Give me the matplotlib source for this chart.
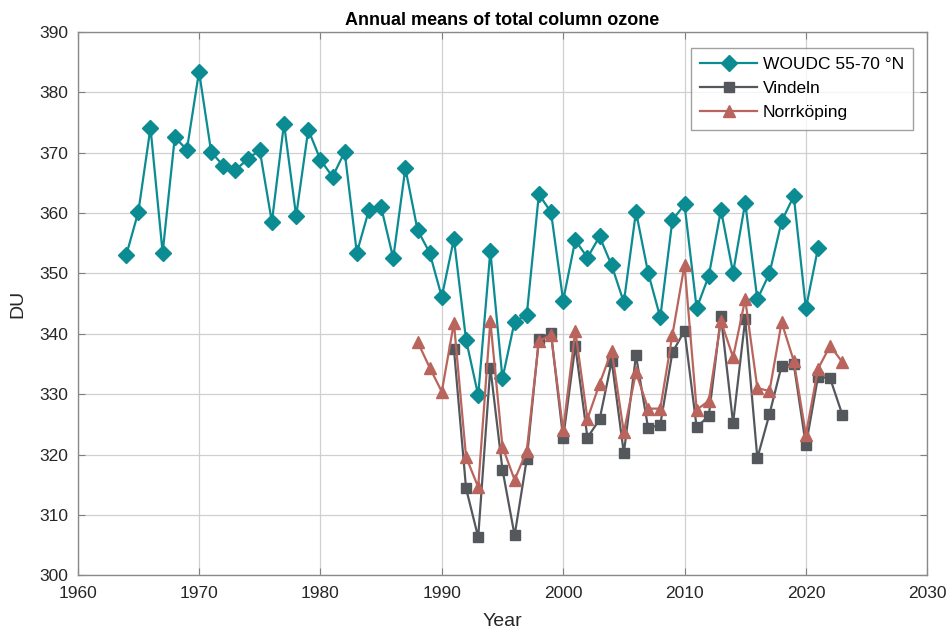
import matplotlib
matplotlib.use("Agg")
import matplotlib.pyplot as plt

plt.rcParams['font.family'] = ['Liberation Sans', 'DejaVu Sans']

# WOUDC zonal mean 55-70 N, 1964-2021
woudc_years = list(range(1964, 2022))
woudc_vals = [353.0, 360.2, 374.1, 353.4, 372.5, 370.5, 383.4, 370.1, 367.8, 367.1,
              368.9, 370.4, 358.5, 374.8, 359.5, 373.8, 368.8, 366.0, 370.1, 353.4,
              360.5, 361.0, 352.5, 367.4, 357.2, 353.4, 346.1, 355.7, 339.0, 329.8,
              353.7, 332.6, 342.0, 343.1, 363.1, 360.1, 345.5, 355.5, 352.6, 356.1,
              351.3, 345.2, 360.2, 350.1, 342.7, 358.8, 361.4, 344.2, 349.6, 360.5,
              350.1, 361.7, 345.7, 350.0, 358.6, 362.8, 344.2, 354.2]

# Vindeln, 1991-2023
vindeln_years = list(range(1991, 2024))
vindeln_vals = [337.5, 314.4, 306.3, 334.4, 317.5, 306.6, 319.2, 339.1, 340.1, 322.7,
                338.0, 322.8, 325.8, 335.5, 320.2, 336.4, 324.4, 324.9, 336.9, 340.5,
                324.5, 326.4, 342.9, 325.2, 342.4, 319.4, 326.7, 334.7, 335.0, 321.5,
                332.9, 332.6, 326.6]

# Norrköping, 1988-2023
norr_years = list(range(1988, 2024))
norr_vals = [338.7, 334.4, 330.4, 341.8, 319.6, 314.6, 342.1, 321.3, 315.8, 320.6,
             338.8, 339.8, 324.0, 340.5, 325.9, 331.7, 337.2, 323.7, 333.6, 327.6,
             327.6, 339.8, 351.4, 327.4, 328.9, 342.1, 336.1, 345.7, 331.0, 330.5,
             341.9, 335.5, 323.3, 334.2, 338.0, 335.3]

x_ticks = [1960, 1970, 1980, 1990, 2000, 2010, 2020, 2030]
y_ticks = [300, 310, 320, 330, 340, 350, 360, 370, 380, 390]

fig = plt.figure(figsize=(9.53, 6.35), dpi=100)
ax = fig.add_axes([0.0815, 0.094, 0.8915, 0.856])

teal = '#0a8c92'
grey = '#54585d'
red = '#b9645c'

ax.plot(woudc_years, woudc_vals, color=teal, lw=1.6, marker='D', ms=8,
        label='WOUDC 55-70 °N', zorder=3)
ax.plot(vindeln_years, vindeln_vals, color=grey, lw=1.6, marker='s', ms=6.5,
        label='Vindeln', zorder=4)
ax.plot(norr_years, norr_vals, color=red, lw=1.6, marker='^', ms=9,
        label='Norrköping', zorder=5)

ax.set_xlim(1960, 2030)
ax.set_ylim(300, 390)
ax.set_xticks(x_ticks)
ax.set_yticks(y_ticks)
ax.grid(True, color='#d0d0d0', lw=0.9)
ax.set_axisbelow(True)
ax.tick_params(direction='in', length=5, colors='#808080', labelcolor='#262626',
               labelsize=12.5, top=True, right=True)
ax.tick_params(axis='x', pad=8)
ax.tick_params(axis='y', pad=7)
for s in ax.spines.values():
    s.set_color('#8a8a8a')
    s.set_linewidth(1.0)

ax.set_xlabel('Year', fontsize=14, color='#262626', labelpad=8)
ax.set_ylabel('DU', fontsize=14, color='#262626', labelpad=9)
ax.set_title('Annual means of total column ozone', fontsize=13, fontweight='bold',
             color='black', pad=5)

leg = ax.legend(loc='upper right', bbox_to_anchor=(0.9835, 0.9705), fontsize=12.5,
                frameon=True, fancybox=False, borderpad=0.55, handlelength=3.3,
                labelspacing=0.5, handletextpad=0.3, borderaxespad=0.0)
leg.get_frame().set_edgecolor('#8a8a8a')
leg.get_frame().set_linewidth(1.0)

fig.savefig('out.png', dpi=100, facecolor='white')
